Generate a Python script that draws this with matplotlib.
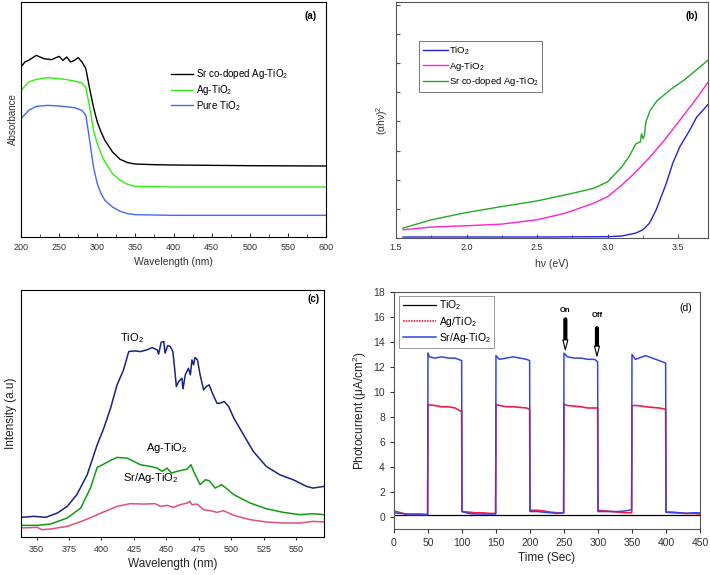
import numpy as np
import matplotlib
matplotlib.use("Agg")
import matplotlib.pyplot as plt
from matplotlib.ticker import MultipleLocator, NullFormatter

plt.rcParams['font.family'] = ['Liberation Sans', 'DejaVu Sans']
plt.rcParams['mathtext.fontset'] = 'custom'
plt.rcParams['mathtext.rm'] = 'Liberation Sans'
plt.rcParams['mathtext.it'] = 'Liberation Sans:italic'

# ---------- (a) UV-vis absorbance (arbitrary units) ----------
wl_sr = [200, 205, 210, 220, 230, 240, 250, 255, 260, 265, 270, 275, 280, 285, 290,
         295, 300, 305, 310, 320, 330, 340, 350, 375, 400, 450, 500, 600]
abs_sr = [510, 525, 530, 545, 535, 532, 542, 530, 540, 525, 530, 538, 525, 505, 445,
          390, 345, 315, 290, 255, 233, 223, 219, 217, 216, 215, 214, 213]
wl_ag = [200, 210, 220, 235, 250, 260, 270, 280, 285, 290, 295, 300, 305, 310, 320,
         330, 340, 350, 400, 600]
abs_ag = [440, 465, 473, 478, 475, 472, 468, 462, 448, 390, 320, 280, 250, 225, 190,
          170, 158, 152, 150, 150]
wl_ti = [200, 210, 220, 235, 250, 270, 280, 285, 290, 295, 300, 305, 310, 320, 330,
         340, 350, 400, 600]
abs_ti = [355, 380, 392, 395, 393, 388, 380, 365, 290, 210, 160, 130, 110, 90, 77,
          70, 67, 65, 65]

# ---------- (b) Tauc plot ----------
hv_ti = [1.55, 2.0, 2.5, 3.0, 3.1, 3.2, 3.25, 3.296, 3.343, 3.415, 3.46, 3.51, 3.58, 3.63, 3.71]
tauc_ti = [3, 3, 3, 4, 6, 15, 25, 45, 85, 165, 225, 275, 325, 365, 403]
hv_ag = [1.55, 1.75, 2.0, 2.25, 2.5, 2.7, 2.9, 3.0, 3.1, 3.2, 3.3, 3.4, 3.5, 3.6, 3.71]
tauc_ag = [25, 33, 37, 42, 55, 75, 105, 125, 160, 200, 245, 295, 350, 405, 470]
hv_sr = [1.55, 1.75, 2.0, 2.25, 2.5, 2.75, 2.9, 3.0, 3.1, 3.15, 3.2, 3.23, 3.24, 3.25,
         3.26, 3.27, 3.3, 3.35, 3.45, 3.55, 3.71]
tauc_sr = [30, 55, 77, 95, 112, 135, 150, 170, 215, 245, 285, 290, 315, 300, 310,
           350, 385, 415, 450, 480, 537]

# ---------- (c) PL spectra ----------
pl_x_ti = [338, 348, 357, 366, 373.6, 381, 389, 396.7, 401.8, 407, 412, 417, 421, 425,
           430, 435, 439, 443, 444, 446, 448, 449, 451, 453, 455, 456.6, 457.7, 459.5,
           462, 462.8, 464.6, 467, 468.5, 469.7, 471, 472, 474, 476, 478.7, 480.8, 483,
           486, 489, 491.5, 494.6, 498, 502, 509.5, 517, 527, 537.4, 547.7, 558, 563, 571.5]
pl_ti = [59, 62, 59, 72, 92, 127, 187, 277, 327, 387, 457, 502, 557, 559,
         557, 562, 569, 562, 549, 585, 587, 552, 575, 572, 557, 497, 452, 467,
         477, 445, 487, 507, 487, 532, 517, 539, 532, 487, 442, 452, 457,
         427, 402, 402, 407, 392, 357, 307, 257, 212, 187, 172, 152, 147, 152]
pl_x_ag = [338, 350.5, 360.8, 373.6, 384, 391.5, 396.7, 401.8, 407, 412, 419.7, 425, 430,
           437.7, 443, 446.7, 450.5, 454, 458, 466, 469, 471, 476, 480, 483, 487.6,
           492.6, 496.6, 502, 514.6, 527, 540, 553, 563, 571.5]
pl_ag = [35, 35, 39, 57, 87, 147, 209, 219, 230, 239, 237, 227, 217,
         212, 207, 197, 207, 192, 197, 204, 217, 197, 157, 172, 169, 147,
         157, 145, 127, 102, 85, 74, 67, 70, 67]
pl_x_sr = [338, 350.5, 354, 360.8, 373.6, 386, 399.8, 412, 422, 432.5, 441.5, 445.4, 450.5,
           455.6, 460.7, 466, 468, 469.8, 473.6, 478.7, 484, 489, 494, 502, 514.6, 527,
           540, 553, 563, 571.5]
pl_sr = [27, 29, 22, 24, 32, 49, 72, 92, 100, 99, 100, 92, 95,
         89, 97, 102, 107, 97, 99, 82, 79, 74, 79, 65, 52, 45,
         42, 42, 47, 45]

# ---------- (d) photocurrent ----------
t_on = [0, 10, 20, 30, 40, 49.5, 50, 52, 60, 70, 80, 90, 99.5, 100, 110, 120, 130, 140,
        149.5, 150, 155, 165, 175, 185, 195, 199.5, 200, 210, 220, 230, 240, 249.5, 250,
        255, 265, 275, 285, 295, 299.5, 300, 310, 320, 330, 340, 349.5, 350, 355, 365,
        370, 380, 390, 399.5, 400, 410, 420, 430, 440, 450]
i_sr = [0.3, 0.25, 0.2, 0.2, 0.2, 0.15, 13.1, 12.8, 12.7, 12.8, 12.7, 12.7, 12.5, 0.4,
        0.25, 0.2, 0.2, 0.2, 0.2, 12.9, 12.6, 12.7, 12.8, 12.7, 12.6, 12.5, 0.4, 0.4,
        0.35, 0.3, 0.25, 0.3, 13.1, 12.8, 12.7, 12.7, 12.6, 12.6, 12.4, 0.4, 0.4, 0.4,
        0.4, 0.45, 0.55, 13.0, 12.6, 12.8, 12.9, 12.7, 12.5, 12.3, 0.35, 0.35, 0.3,
        0.25, 0.3, 0.3]
i_ag = [0.45, 0.3, 0.15, 0.15, 0.15, 0.15, 9.0, 8.95, 8.9, 8.8, 8.8, 8.7, 8.4, 0.4,
        0.35, 0.3, 0.3, 0.25, 0.25, 9.0, 8.9, 8.8, 8.8, 8.75, 8.7, 8.6, 0.5, 0.5,
        0.45, 0.35, 0.3, 0.3, 9.0, 8.9, 8.85, 8.8, 8.7, 8.7, 8.7, 0.5, 0.45, 0.4,
        0.35, 0.3, 0.3, 8.9, 8.9, 8.85, 8.8, 8.75, 8.7, 8.6, 0.35, 0.3, 0.3,
        0.25, 0.25, 0.2]
t_ti = [0, 450]
i_ti = [0.1, 0.1]

fig = plt.figure(figsize=(7.1, 5.75), dpi=100)

# ---- panel (a)
ax = fig.add_axes([0.0296, 0.5878, 0.4296, 0.4087])
ax.plot(wl_sr, abs_sr, color='black', lw=1.0, label='Sr co-doped Ag-TiO$_2$')
ax.plot(wl_ag, abs_ag, color='#33ee11', lw=1.0, label='Ag-TiO$_2$')
ax.plot(wl_ti, abs_ti, color='#4466ff', lw=1.0, label='Pure TiO$_2$')
ax.set_xlim(200, 600)
ax.set_ylim(0, 705)
ax.set_yticks([])
ax.xaxis.set_major_locator(MultipleLocator(50))
ax.xaxis.set_minor_locator(MultipleLocator(25))
ax.tick_params(axis='x', which='both', direction='in', labelsize=6.5, colors='#333333',
               pad=4)
ax.tick_params(axis='x', which='major', length=3)
ax.tick_params(axis='x', which='minor', length=2)
ax.set_xlabel('Wavelength (nm)', fontsize=7.5, color='#333333', labelpad=4)
ax.set_ylabel('Absorbance', fontsize=7, color='#333333', labelpad=2)
ax.text(0.97, 0.96, '(a)', transform=ax.transAxes, fontsize=7, fontweight='bold',
        ha='right', va='top')
ax.legend(loc='upper left', bbox_to_anchor=(0.48, 0.74), frameon=False, fontsize=7,
          handlelength=2.2, labelspacing=0.2, handletextpad=0.3, borderaxespad=0)

# ---- panel (b)
ax = fig.add_axes([0.5577, 0.5861, 0.4394, 0.4104])
ax.plot(hv_ti, tauc_ti, color='#2222dd', lw=1.0, label='TiO$_2$')
ax.plot(hv_ag, tauc_ag, color='#ff22cc', lw=1.0, label='Ag-TiO$_2$')
ax.plot(hv_sr, tauc_sr, color='#22aa22', lw=1.0, label='Sr co-doped Ag-TiO$_2$')
ax.set_xlim(1.5, 3.71)
ax.set_ylim(0, 713)
ax.yaxis.set_major_locator(MultipleLocator(88))
ax.yaxis.set_major_formatter(NullFormatter())
ax.xaxis.set_major_locator(MultipleLocator(0.5))
ax.xaxis.set_minor_locator(MultipleLocator(0.25))
ax.tick_params(which='both', direction='in', colors='#555555', labelsize=6.5,
               labelcolor='#333333')
ax.tick_params(which='major', length=3)
ax.tick_params(which='minor', length=2)
for s in ax.spines.values():
    s.set_color('#555555')
ax.set_xlabel('h\u03bd (eV)', fontsize=7.5, color='#333333', labelpad=5)
ax.set_ylabel('(\u03b1h\u03bd)$^2$', fontsize=7.5, color='#333333', labelpad=1)
ax.text(0.97, 0.96, '(b)', transform=ax.transAxes, fontsize=7, fontweight='bold',
        ha='right', va='top')
leg = ax.legend(loc='upper left', bbox_to_anchor=(0.075, 0.835), fontsize=6.8,
                handlelength=2.6, labelspacing=0.25, handletextpad=0.1,
                borderaxespad=0, fancybox=False, framealpha=1, borderpad=0.4)
leg.get_frame().set_edgecolor('#777777')
leg.get_frame().set_linewidth(0.7)

# ---- panel (c)
ax = fig.add_axes([0.0296, 0.0661, 0.4268, 0.4296])
ax.plot(pl_x_ti, pl_ti, color='#1a237e', lw=1.1)
ax.plot(pl_x_ag, pl_ag, color='#129a12', lw=1.1)
ax.plot(pl_x_sr, pl_sr, color='#e0507a', lw=1.1)
ax.set_xlim(338, 571.5)
ax.set_ylim(0, 742)
ax.set_yticks([])
ax.xaxis.set_major_locator(MultipleLocator(25))
ax.tick_params(axis='x', direction='out', length=2, labelsize=6.5, colors='#333333')
ax.set_xlabel('Wavelength (nm)', fontsize=8.5, color='#222222', labelpad=3)
ax.set_ylabel('Intensity (a.u)', fontsize=8.5, color='#222222', labelpad=3)
ax.text(0.985, 0.985, '(c)', transform=ax.transAxes, fontsize=7, fontweight='bold',
        ha='right', va='top')
ax.text(423.6, 597, 'TiO$_2$', fontsize=8, ha='center', va='center')
ax.text(450.5, 267, 'Ag-TiO$_2$', fontsize=8, ha='center', va='center')
ax.text(437.7, 177, 'Sr/Ag-TiO$_2$', fontsize=8, ha='center', va='center')

# ---- panel (d)
ax = fig.add_axes([0.5549, 0.08, 0.431, 0.4122])
ax.plot(t_ti, i_ti, color='black', lw=0.9, label='TiO$_2$')
ax.plot(t_on, i_ag, color='#ee2244', lw=1.2, label='Ag/TiO$_2$')
ax.plot(t_on, i_sr, color='#3344ee', lw=1.1, label='Sr/Ag-TiO$_2$')
ax.set_xlim(0, 450)
ax.set_ylim(-1, 18)
ax.xaxis.set_major_locator(MultipleLocator(50))
ax.set_yticks(range(0, 19, 2))
ax.tick_params(which='both', direction='out', length=3, labelsize=7.5, colors='#333333')
for s in ax.spines.values():
    s.set_color('#555555')
ax.set_xlabel('Time (Sec)', fontsize=8.5, color='#222222', labelpad=3)
ax.set_ylabel('Photocurrent (\u03bcA/cm$^2$)', fontsize=8.5, color='#222222', labelpad=3)
ax.text(0.975, 0.955, '(d)', transform=ax.transAxes, fontsize=7.5, ha='right', va='top')
leg = ax.legend(loc='upper left', bbox_to_anchor=(0.018, 0.985), fontsize=7.5,
                handlelength=3.2, labelspacing=0.2, handletextpad=0.3,
                borderaxespad=0, fancybox=False, framealpha=1, borderpad=0.3)
leg.get_frame().set_edgecolor('#999999')
leg.get_frame().set_linewidth(0.7)
leg.get_lines()[1].set_linestyle((0, (1, 0.6)))

arrow_x = [252, 298.5]
arrow_top = [15.8, 15.1]
arrow_tip = [13.2, 12.7]
arrow_txt = ['On', 'Off']
arrow_txt_y = [16.2, 15.85]
for x, y0, y1, txt, ty in zip(arrow_x, arrow_top, arrow_tip, arrow_txt, arrow_txt_y):
    ax.annotate('', xy=(x, y1 + 0.9), xytext=(x, y0),
                arrowprops=dict(arrowstyle='-', lw=3, color='black',
                                shrinkA=0, shrinkB=0))
    ax.annotate('', xy=(x, y1), xytext=(x, y1 + 1.0),
                arrowprops=dict(arrowstyle='-|>,head_width=0.18,head_length=0.7',
                                lw=0.8, fc='white', ec='black',
                                shrinkA=0, shrinkB=0))
    ax.text(x, ty, txt, fontsize=5.5, fontweight='bold', ha='center', va='bottom')

fig.savefig('out.png', dpi=100)
